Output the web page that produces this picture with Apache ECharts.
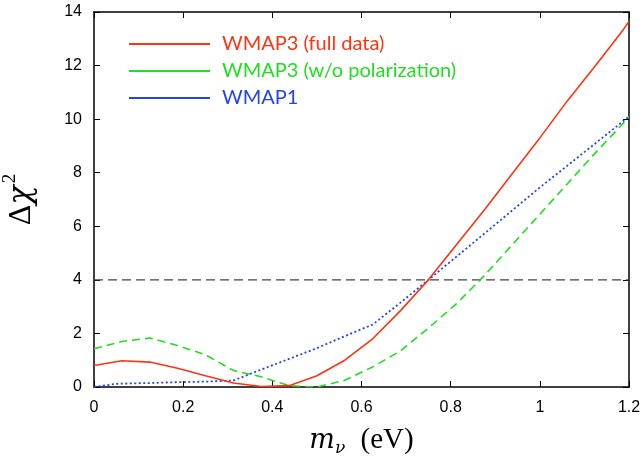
<!DOCTYPE html>
<html>
<head>
<meta charset="UTF-8">
<title>WMAP neutrino mass</title>
<script src="https://cdn.jsdelivr.net/npm/echarts@6/dist/echarts.min.js"></script>
<style>
  html, body { margin: 0; padding: 0; background: #fff; }
</style>
</head>
<body>
<div id="main" style="width: 644px;height:460px;"></div>
<script type="text/javascript">
    // m_nu grid (eV)
    var mnu = [0, 0.0625, 0.125, 0.1875, 0.25, 0.3125, 0.375, 0.4375, 0.5, 0.5625, 0.625,
        0.6875, 0.75, 0.8125, 0.875, 0.9375, 1.0, 1.0625, 1.125, 1.1875, 1.2];
    var wmap3Full = [0.8, 0.98, 0.93, 0.7, 0.42, 0.15, 0.02, 0.05, 0.42, 1.0, 1.8,
        2.85, 4.0, 5.3, 6.6, 7.95, 9.3, 10.7, 12.0, 13.35, 13.65];
    var wmap3NoPol = [1.43, 1.7, 1.83, 1.55, 1.2, 0.62, 0.38, 0.05, 0.0, 0.25, 0.75,
        1.35, 2.2, 3.1, 4.15, 5.3, 6.45, 7.6, 8.75, 9.85, 10.1];
    var mnuW1 = [0, 0.05, 0.125, 0.1875, 0.25, 0.3125, 0.375, 0.4375, 0.5, 0.5625, 0.625,
        0.6875, 0.75, 0.875, 1.0, 1.125, 1.2];
    var wmap1 = [0, 0.12, 0.15, 0.18, 0.2, 0.24, 0.65, 1.05, 1.45, 1.9, 2.33,
        3.15, 4.0, 5.72, 7.45, 9.1, 10.1];
    var limitX = [0, 1.2];
    var limitY = [4, 4];

    var names = ['WMAP3 (full data)', 'WMAP3 (w/o polarization)', 'WMAP1'];
    var colors = ['#ff3311', '#22dd22', '#2244ee'];

    function zip(xs, ys) {
        var res = [];
        for (let i = 0; i < xs.length; i++) {
            res.push([xs[i], ys[i]]);
        }
        return res;
    }

    var myChart = echarts.init(document.getElementById('main'));

    var tickAxis = {
        type: 'value',
        min: 0,
        axisLine: { show: true, onZero: false, lineStyle: { color: '#000', width: 1.5 } },
        axisTick: { show: true, inside: true, length: 6, lineStyle: { color: '#000', width: 1 } },
        splitLine: { show: false }
    };

    var option = {
        animation: false,
        grid: { left: 94, right: 15, top: 12, bottom: 73, outerBoundsMode: 'none' },
        legend: {
            orient: 'vertical',
            left: 129,
            top: 34,
            padding: 0,
            itemWidth: 81,
            itemHeight: 14,
            itemGap: 7,
            icon: 'path://M0,6L81,6L81,8L0,8Z',
            data: names.map(function (n, i) {
                return { name: n, itemStyle: { color: colors[i] }, textStyle: { color: colors[i] } };
            }),
            textStyle: {
                fontFamily: 'Lato',
                fontSize: 20,
                padding: [0, 0, 0, 7]
            }
        },
        xAxis: [
            Object.assign({}, tickAxis, {
                max: 1.2,
                interval: 0.2,
                position: 'bottom',
                axisLabel: { color: '#000', fontSize: 16, fontFamily: 'Liberation Sans', margin: 13 },
                name: '{m|m}{nu|ν}{p| (eV)}',
                nameLocation: 'middle',
                nameGap: 37,
                nameTextStyle: {
                    rich: {
                        m: { fontFamily: 'DejaVu Serif', fontStyle: 'italic', fontSize: 27, color: '#000' },
                        nu: { fontFamily: 'DejaVu Serif', fontStyle: 'italic', fontSize: 17, color: '#000', padding: [16, 0, 0, 0] },
                        p: { fontFamily: 'Liberation Serif', fontSize: 29, color: '#000', padding: [0, 0, 0, 8] }
                    }
                }
            }),
            Object.assign({}, tickAxis, {
                max: 1.2,
                interval: 0.2,
                position: 'top',
                axisLabel: { show: false }
            })
        ],
        yAxis: [
            Object.assign({}, tickAxis, {
                max: 14,
                interval: 2,
                position: 'left',
                axisLabel: { color: '#000', fontSize: 16, fontFamily: 'Liberation Sans', margin: 12 },
                name: '{d|Δ}{c|χ}{s|2}',
                nameLocation: 'middle',
                nameRotate: 90,
                nameGap: 52,
                nameTextStyle: {
                    rich: {
                        d: { fontFamily: 'Liberation Serif', fontSize: 32, color: '#000' },
                        c: { fontFamily: 'DejaVu Serif', fontStyle: 'italic', fontSize: 32, color: '#000' },
                        s: { fontFamily: 'Liberation Serif', fontSize: 19, color: '#000', padding: [0, 0, 22, 2] }
                    }
                }
            }),
            Object.assign({}, tickAxis, {
                max: 14,
                interval: 2,
                position: 'right',
                axisLabel: { show: false }
            })
        ],
        series: [
            {
                name: 'limit',
                type: 'line',
                data: zip(limitX, limitY),
                symbol: 'none',
                silent: true,
                lineStyle: { color: '#444', width: 1.3, type: [9, 5] },
                z: 1
            },
            {
                name: names[0],
                type: 'line',
                data: zip(mnu, wmap3Full),
                symbol: 'none',
                lineStyle: { color: colors[0], width: 1.6 },
                itemStyle: { color: colors[0] },
                z: 3
            },
            {
                name: names[1],
                type: 'line',
                data: zip(mnu, wmap3NoPol),
                symbol: 'none',
                lineStyle: { color: colors[1], width: 1.6, type: [8, 5] },
                itemStyle: { color: colors[1] },
                z: 2
            },
            {
                name: names[2],
                type: 'line',
                data: zip(mnuW1, wmap1),
                symbol: 'none',
                lineStyle: { color: colors[2], width: 1.8, type: [2, 2.5] },
                itemStyle: { color: colors[2] },
                z: 2
            }
        ]
    };

    myChart.setOption(option);
</script>
</body>
</html>
